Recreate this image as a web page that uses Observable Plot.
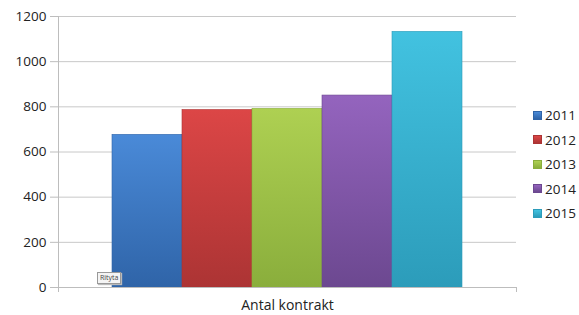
<!DOCTYPE html>
<html>
<head>
<meta charset="utf-8">
<script src="https://cdn.jsdelivr.net/npm/d3@7"></script>
<script src="https://cdn.jsdelivr.net/npm/@observablehq/plot@0.6"></script>
<style>
  html, body { margin: 0; padding: 0; background: #fff; }
  #wrap { position: relative; width: 579px; height: 315px; font-family: "Open Sans", "Noto Sans", sans-serif; }
  #legend { position: absolute; left: 533px; top: 103px; font-size: 13.5px; color: #222; }
  #legend .item { display: flex; align-items: center; height: 24.5px; }
  #legend .sw { width: 7px; height: 7px; margin-right: 3px; }
  #tip { position: absolute; left: 97px; top: 272px; font-size: 7px; color: #444; border: 1px solid #999; background: #f4f4f4; padding: 0 2px; line-height: 10px; box-shadow: 1px 1px 1px #bbb; }
</style>
</head>
<body>
<div id="wrap"></div>
<script>
const category = "Antal kontrakt";
const years = ["2011", "2012", "2013", "2014", "2015"];
const values = [676, 786, 791, 850, 1132];
const colorsTop = ["#4a8ad8", "#dc4646", "#aed052", "#9464be", "#42c2e0"];
const colorsBottom = ["#2f64a8", "#ac3434", "#8aae3c", "#6c4890", "#2c9cba"];
const yTicks = [0, 200, 400, 600, 800, 1000, 1200];

const data = years.map((y, i) => ({year: y, value: values[i], i}));

const plot = Plot.plot({
  width: 579,
  height: 315,
  marginLeft: 58,
  marginRight: 63,
  marginTop: 16,
  marginBottom: 28,
  style: {fontFamily: "'Open Sans', 'Noto Sans', sans-serif", fontSize: "13.5px", color: "#222", background: "#fff"},
  x: {domain: years, paddingInner: 0, paddingOuter: 0.74, axis: null},
  y: {domain: [0, 1200], ticks: yTicks},
  marks: [
    Plot.gridY(yTicks, {stroke: "#c8c8c8", strokeOpacity: 1}),
    Plot.barY(data, {x: "year", y: "value", fill: d => `url(#grad${d.i})`, stroke: d => colorsBottom[d.i], strokeWidth: 0.6}),
    Plot.ruleY([0], {stroke: "#bdbdbd"}),
    Plot.frame({anchor: "left", stroke: "#bdbdbd"}),
    Plot.axisY(yTicks, {tickSize: 8, tickPadding: 4, tickFormat: d => String(d), stroke: "#bdbdbd", fill: "#222", fontSize: 13.5, label: null}),
    Plot.text([category], {frameAnchor: "bottom", dy: 22, fontSize: 14, fill: "#222", text: d => d})
  ]
});

// gradients for bars
const svg = d3.select(plot);
const defs = svg.insert("defs", ":first-child");
years.forEach((y, i) => {
  const g = defs.append("linearGradient").attr("id", `grad${i}`).attr("x1", 0).attr("y1", 0).attr("x2", 0).attr("y2", 1);
  g.append("stop").attr("offset", "0%").attr("stop-color", colorsTop[i]);
  g.append("stop").attr("offset", "100%").attr("stop-color", colorsBottom[i]);
});
// small category-axis edge ticks
const x0 = 58, x1 = 579 - 63, yb = 315 - 28;
svg.append("g").attr("stroke", "#bdbdbd")
  .selectAll("line").data([x0, x1]).join("line")
  .attr("x1", d => d + 0.5).attr("x2", d => d + 0.5).attr("y1", yb).attr("y2", yb + 5);

const wrap = document.getElementById("wrap");
wrap.appendChild(plot);

const legend = document.createElement("div");
legend.id = "legend";
years.forEach((y, i) => {
  const it = document.createElement("div");
  it.className = "item";
  const sw = document.createElement("span");
  sw.className = "sw";
  sw.style.background = `linear-gradient(${colorsTop[i]}, ${colorsBottom[i]})`;
  sw.style.border = `1px solid ${colorsBottom[i]}`;
  const t = document.createElement("span");
  t.textContent = y;
  it.appendChild(sw); it.appendChild(t);
  legend.appendChild(it);
});
wrap.appendChild(legend);

const tip = document.createElement("div");
tip.id = "tip";
tip.textContent = "Rityta";
wrap.appendChild(tip);
</script>
</body>
</html>
